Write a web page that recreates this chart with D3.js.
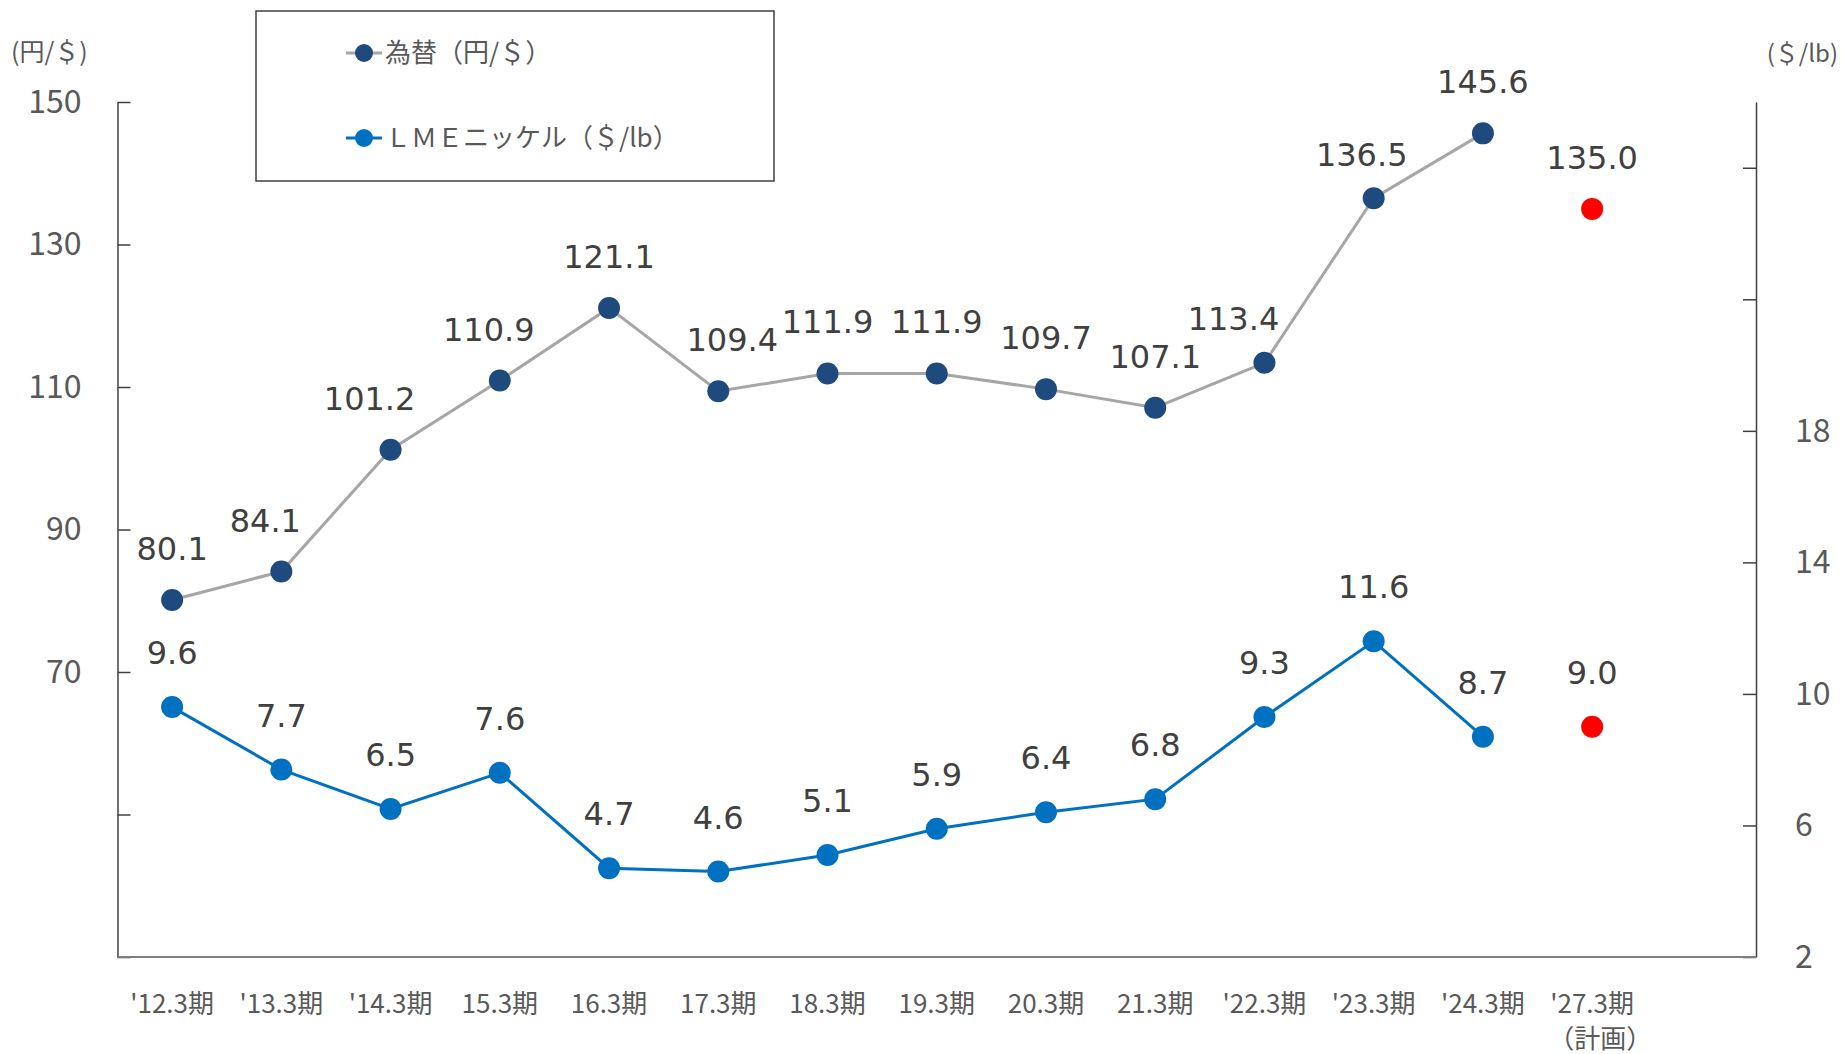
<!DOCTYPE html>
<html>
<head>
<meta charset="utf-8">
<script src="https://cdn.jsdelivr.net/npm/d3@7"></script>
<style>
  html, body { margin: 0; padding: 0; background: #ffffff; }
  svg { display: block; }
</style>
</head>
<body>
<div id="chart"></div>
<script>
// period labels (last slot of the axis is left empty)
const periods = ["'12.3期", "'13.3期", "'14.3期", "15.3期", "16.3期", "17.3期", "18.3期",
  "19.3期", "20.3期", "21.3期", "'22.3期", "'23.3期", "'24.3期", "'27.3期"];
const planPeriod = "'27.3期";
const planNote = "（計画）";

// 為替 (円/＄), actual results
const fxRate = [80.1, 84.1, 101.2, 110.9, 121.1, 109.4, 111.9, 111.9, 109.7, 107.1, 113.4, 136.5, 145.6];
const fxPlan = 135.0;

// LME nickel ($/lb), actual results
const nickelPrice = [9.6, 7.7, 6.5, 7.6, 4.7, 4.6, 5.1, 5.9, 6.4, 6.8, 9.3, 11.6, 8.7];
const nickelPlan = 9.0;

const leftTicks = [30, 50, 70, 90, 110, 130, 150];
const rightTicks = [2, 6, 10, 14, 18, 22, 26];

// small hand nudges for fx labels that were moved off the line
const fxLabelShift = { "'13.3期": [-16, 0], "'14.3期": [-21, 0], "15.3期": [-11, 0], "17.3期": [14, 0],
  "'22.3期": [-31, 7], "'23.3期": [-12, 8] };

const width = 1842, height = 1054;
const plot = { left: 117.5, right: 1756, top: 102, bottom: 957 };

const fxColor = "#1f4a7e", fxLine = "#a6a6a6", niColor = "#0070c0", planColor = "#ff0000";
const textColor = "#404040", tickColor = "#595959";
const jpFont = "'Noto Sans CJK JP', 'Noto Sans', sans-serif";
const numFont = "'DejaVu Sans', Verdana, sans-serif";

const svg = d3.select("#chart").append("svg")
  .attr("width", width)
  .attr("height", height);

const x = d3.scaleBand()
  .domain(periods.concat([""]))
  .range([plot.left, plot.right]);

const yL = d3.scaleLinear().domain([30, 150]).range([plot.bottom, plot.top]);
const yR = d3.scaleLinear().domain([2, 28]).range([plot.bottom, plot.top]);

const cx = (p) => x(p) + x.bandwidth() / 2;

// axes
svg.append("g")
  .attr("transform", `translate(${plot.left},0)`)
  .call(d3.axisLeft(yL).tickValues(leftTicks).tickSizeInner(-13).tickSizeOuter(0).tickPadding(36)
    .tickFormat((d) => d >= 70 ? d : ""))
  .call((g) => g.select(".domain").attr("stroke", "#404040").attr("stroke-width", 1.5))
  .call((g) => g.selectAll(".tick line").attr("stroke", "#404040").attr("stroke-width", 1.5))
  .call((g) => g.selectAll("text").attr("fill", tickColor).attr("font-size", 32).attr("font-family", jpFont));

svg.append("g")
  .attr("transform", `translate(${plot.right},0)`)
  .call(d3.axisRight(yR).tickValues(rightTicks).tickSizeInner(-13).tickSizeOuter(0).tickPadding(39)
    .tickFormat((d) => d <= 18 ? d : ""))
  .call((g) => g.select(".domain").attr("stroke", "#404040").attr("stroke-width", 1.5))
  .call((g) => g.selectAll(".tick line").attr("stroke", "#404040").attr("stroke-width", 1.5))
  .call((g) => g.selectAll("text").attr("fill", tickColor).attr("font-size", 32).attr("font-family", jpFont));

svg.append("line")
  .attr("x1", plot.left).attr("x2", plot.right)
  .attr("y1", plot.bottom).attr("y2", plot.bottom)
  .attr("stroke", "#7f7f7f").attr("stroke-width", 2);

// period labels
const xLabels = svg.append("g")
  .attr("font-family", jpFont)
  .attr("font-size", 26)
  .attr("fill", tickColor)
  .attr("text-anchor", "middle");

periods.forEach((p) => {
  xLabels.append("text").attr("x", cx(p)).attr("y", 1013).text(p);
});
xLabels.append("text").attr("x", cx(planPeriod) + 8).attr("y", 1048).text(planNote);

// unit labels
svg.append("text").attr("x", 11).attr("y", 61)
  .attr("font-family", jpFont).attr("font-size", 25).attr("fill", tickColor)
  .text("(円/＄)");
svg.append("text").attr("x", 1838).attr("y", 62).attr("text-anchor", "end")
  .attr("font-family", jpFont).attr("font-size", 24).attr("fill", tickColor)
  .text("(＄/lb)");

// series
const actual = periods.slice(0, fxRate.length);

const line = (yScale) => d3.line()
  .x((d) => cx(d.p))
  .y((d) => yScale(d.v));

const fxData = actual.map((p, i) => ({ p, v: fxRate[i] }));
const niData = actual.map((p, i) => ({ p, v: nickelPrice[i] }));

svg.append("path").datum(fxData)
  .attr("d", line(yL)).attr("fill", "none")
  .attr("stroke", fxLine).attr("stroke-width", 3);

svg.append("path").datum(niData)
  .attr("d", line(yR)).attr("fill", "none")
  .attr("stroke", niColor).attr("stroke-width", 3);

svg.append("g").selectAll("circle").data(fxData).join("circle")
  .attr("cx", (d) => cx(d.p)).attr("cy", (d) => yL(d.v)).attr("r", 11)
  .attr("fill", fxColor);

svg.append("g").selectAll("circle").data(niData).join("circle")
  .attr("cx", (d) => cx(d.p)).attr("cy", (d) => yR(d.v)).attr("r", 11)
  .attr("fill", niColor);

svg.append("circle").attr("cx", cx(planPeriod)).attr("cy", yL(fxPlan)).attr("r", 11).attr("fill", planColor);
svg.append("circle").attr("cx", cx(planPeriod)).attr("cy", yR(nickelPlan)).attr("r", 11).attr("fill", planColor);

// data labels
const labels = svg.append("g")
  .attr("font-family", numFont)
  .attr("font-size", 32)
  .attr("fill", textColor)
  .attr("text-anchor", "middle");

fxData.concat([{ p: planPeriod, v: fxPlan }]).forEach((d) => {
  const s = fxLabelShift[d.p] || [0, 0];
  labels.append("text")
    .attr("x", cx(d.p) + s[0])
    .attr("y", yL(d.v) - 40 + s[1])
    .text(d.v.toFixed(1));
});

niData.concat([{ p: planPeriod, v: nickelPlan }]).forEach((d) => {
  labels.append("text")
    .attr("x", cx(d.p))
    .attr("y", yR(d.v) - 43)
    .text(d.v.toFixed(1));
});

// legend
const legend = svg.append("g");
legend.append("rect")
  .attr("x", 256).attr("y", 11).attr("width", 518).attr("height", 170)
  .attr("fill", "#ffffff").attr("stroke", "#404040").attr("stroke-width", 1.5);

const legendItems = [
  { name: "為替（円/＄）", line: fxLine, dot: fxColor, y: 53 },
  { name: "ＬＭＥニッケル（＄/lb）", line: niColor, dot: niColor, y: 138 }
];

legendItems.forEach((item) => {
  legend.append("line")
    .attr("x1", 346).attr("x2", 382).attr("y1", item.y).attr("y2", item.y)
    .attr("stroke", item.line).attr("stroke-width", 3);
  legend.append("circle").attr("cx", 364).attr("cy", item.y).attr("r", 9).attr("fill", item.dot);
  legend.append("text")
    .attr("x", 385).attr("y", item.y + 9)
    .attr("font-family", jpFont).attr("font-size", 26).attr("fill", tickColor)
    .text(item.name);
});
</script>
</body>
</html>
